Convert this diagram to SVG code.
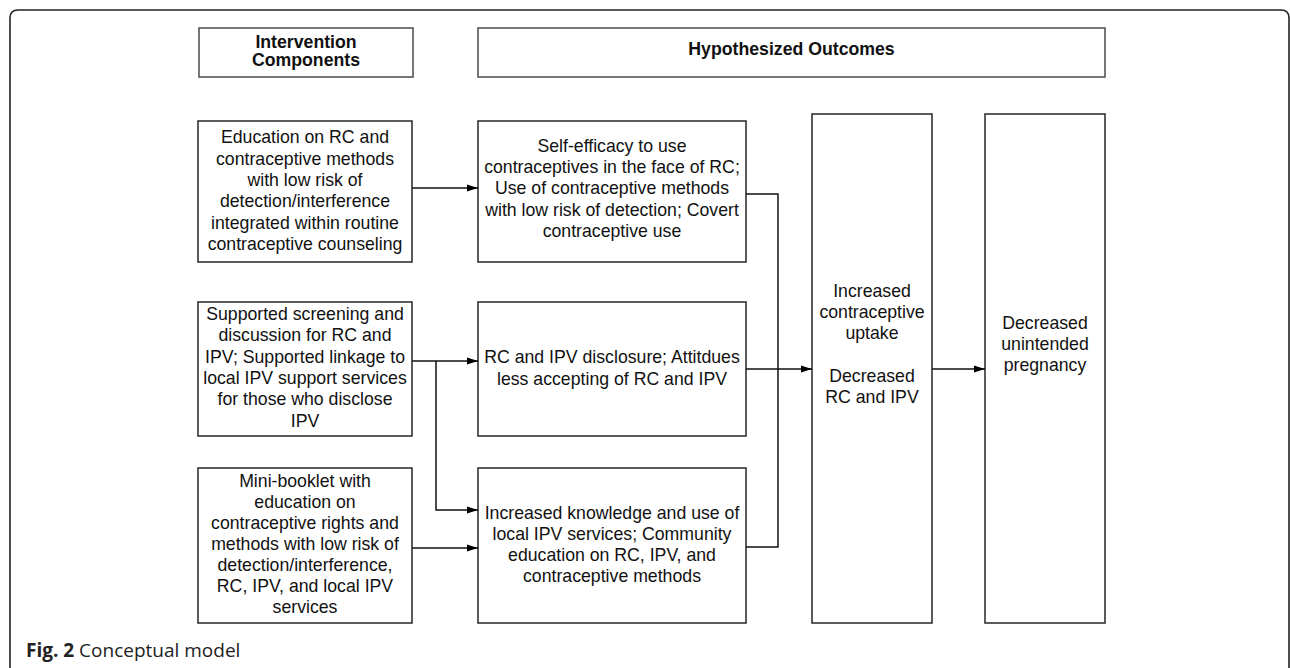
<svg xmlns="http://www.w3.org/2000/svg" width="1290" height="668" viewBox="0 0 1290 668">
<style>
.box{fill:#fff;stroke:#333;stroke-width:1.6}
.hbox{fill:#fff;stroke:#555;stroke-width:1.6}
.t{font-family:"Liberation Sans",Arial,sans-serif;font-size:17.7px;fill:#111;text-anchor:middle}
.b{font-weight:bold}
.c{fill:none;stroke:#111;stroke-width:1.5}
.cap{font-family:"Open Sans","Noto Sans",sans-serif;font-size:19px;fill:#222}
</style>
<defs>
<marker id="arr" markerWidth="12" markerHeight="8" refX="11" refY="4" orient="auto" markerUnits="userSpaceOnUse"><path d="M0,0.5 L11,4 L0,7.5 z" fill="#000"/></marker>
</defs>
<rect width="1290" height="668" fill="#fff"/>
<path d="M10,672 V18 Q10,10 18,10 H1281 Q1289,10 1289,18 V672" fill="none" stroke="#222" stroke-width="1.6"/>

<g id="hdr-intervention">
<rect class="hbox" x="199" y="28" width="214" height="49"/>
<text class="t b" x="306" y="47.7">Intervention</text>
<text class="t b" x="306" y="65.6">Components</text>
</g>
<g id="hdr-outcomes">
<rect class="hbox" x="478" y="28" width="627" height="49"/>
<text class="t b" x="791.5" y="55">Hypothesized Outcomes</text>
</g>

<g id="n-education">
<rect class="box" x="198" y="121" width="214" height="141"/>
<text class="t" x="305" y="143.3">Education on RC and</text>
<text class="t" x="305" y="164.6">contraceptive methods</text>
<text class="t" x="305" y="185.9">with low risk of</text>
<text class="t" x="305" y="207.2">detection/interference</text>
<text class="t" x="305" y="228.5">integrated within routine</text>
<text class="t" x="305" y="249.8">contraceptive counseling</text>
</g>
<g id="n-screening">
<rect class="box" x="198" y="302" width="214" height="134"/>
<text class="t" x="305" y="320">Supported screening and</text>
<text class="t" x="305" y="341.3">discussion for RC and</text>
<text class="t" x="305" y="362.6">IPV; Supported linkage to</text>
<text class="t" x="305" y="383.9">local IPV support services</text>
<text class="t" x="305" y="405.2">for those who disclose</text>
<text class="t" x="305" y="426.5">IPV</text>
</g>
<g id="n-booklet">
<rect class="box" x="198" y="468" width="214" height="155"/>
<text class="t" x="305" y="486.5">Mini-booklet with</text>
<text class="t" x="305" y="507.5">education on</text>
<text class="t" x="305" y="528.5">contraceptive rights and</text>
<text class="t" x="305" y="549.5">methods with low risk of</text>
<text class="t" x="305" y="570.5">detection/interference,</text>
<text class="t" x="305" y="591.5">RC, IPV, and local IPV</text>
<text class="t" x="305" y="612.5">services</text>
</g>
<g id="n-selfefficacy">
<rect class="box" x="478" y="121" width="268" height="141"/>
<text class="t" x="612" y="151.7">Self-efficacy to use</text>
<text class="t" x="612" y="173">contraceptives in the face of RC;</text>
<text class="t" x="612" y="194.3">Use of contraceptive methods</text>
<text class="t" x="612" y="215.6">with low risk of detection; Covert</text>
<text class="t" x="612" y="236.9">contraceptive use</text>
</g>
<g id="n-disclosure">
<rect class="box" x="478" y="302" width="268" height="134"/>
<text class="t" x="612" y="363.3">RC and IPV disclosure; Attitdues</text>
<text class="t" x="612" y="384.5">less accepting of RC and IPV</text>
</g>
<g id="n-knowledge">
<rect class="box" x="478" y="468" width="268" height="155"/>
<text class="t" x="612" y="518.5">Increased knowledge and use of</text>
<text class="t" x="612" y="539.7">local IPV services; Community</text>
<text class="t" x="612" y="560.9">education on RC, IPV, and</text>
<text class="t" x="612" y="582.1">contraceptive methods</text>
</g>
<g id="n-uptake">
<rect class="box" x="812" y="114" width="120" height="509"/>
<text class="t" x="872" y="296.7">Increased</text>
<text class="t" x="872" y="318">contraceptive</text>
<text class="t" x="872" y="339.3">uptake</text>
<text class="t" x="872" y="381.9">Decreased</text>
<text class="t" x="872" y="403.2">RC and IPV</text>
</g>
<g id="n-pregnancy">
<rect class="box" x="985" y="114" width="120" height="509"/>
<text class="t" x="1045" y="328.7">Decreased</text>
<text class="t" x="1045" y="350">unintended</text>
<text class="t" x="1045" y="371.3">pregnancy</text>
</g>

<g id="connectors">
<path class="c" d="M412,188 H478" marker-end="url(#arr)"/>
<path class="c" d="M412,361 H478" marker-end="url(#arr)"/>
<path class="c" d="M436,361 V510 H478" marker-end="url(#arr)"/>
<path class="c" d="M412,548 H478" marker-end="url(#arr)"/>
<path class="c" d="M746,194 H778 V547 H746"/>
<path class="c" d="M746,369 H812" marker-end="url(#arr)"/>
<path class="c" d="M932,369 H985" marker-end="url(#arr)"/>
</g>

<text class="cap" x="26" y="657.3"><tspan font-weight="bold">Fig. 2</tspan> Conceptual model</text>
</svg>
